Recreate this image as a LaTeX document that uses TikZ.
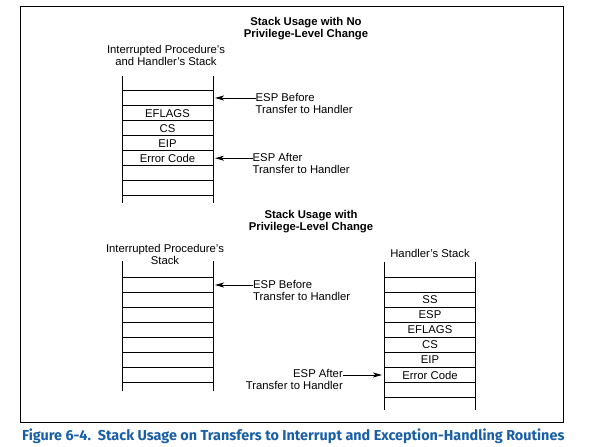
\documentclass[tikz,border=0pt]{standalone}
\usepackage{fontspec}
\setmainfont{Liberation Sans}
\newfontfamily\capfont{Fira Sans}
\usetikzlibrary{arrows.meta}
\definecolor{capblue}{RGB}{25,95,165}
\begin{document}
\begin{tikzpicture}[x=1pt,y=-1pt,
  line/.style={line width=0.9pt},
  arr/.style={line width=0.9pt,-{Stealth[length=9pt,width=5pt,inset=2.5pt]}},
  cell/.style={font=\fontsize{11.3}{12}\selectfont,inner sep=0pt},
  lbl/.style={font=\fontsize{11.3}{12}\selectfont,inner sep=0pt},
  ttl/.style={font=\fontsize{11.3}{12}\selectfont\bfseries,align=center,inner sep=0pt},
  hdr/.style={font=\fontsize{11.3}{12}\selectfont,align=center,inner sep=0pt}]
\useasboundingbox (0,0) rectangle (603,447);
% frame
\draw[line width=1pt] (20,6) rectangle (563,422);

% ---------- top part ----------
\node[ttl] (t1) at (306,29) {Stack Usage with No\\Privilege-Level Change};
\node[hdr] (h1) at (166,55) {Interrupted Procedure's\\and Handler's Stack};
\draw[line] (122,76) -- (122,203) (213,76) -- (213,203);
\foreach \k in {0,...,7} \draw[line] (122,90.7+15*\k) -- (213,90.7+15*\k);
\node[cell] (a1) at (167.5,113.2) {EFLAGS};
\node[cell] (a2) at (167.5,128.2) {CS};
\node[cell] (a3) at (167.5,143.2) {EIP};
\node[cell] (a4) at (167.5,158.2) {Error Code};
\coordinate (p1) at (215,98);
\coordinate (p2) at (215,158.2);
\node[lbl,align=left,anchor=north west] (l1) at (255.5,93) {ESP Before\\Transfer to Handler};
\node[lbl,align=left,anchor=north west] (l2) at (252.5,153.2) {ESP After\\Transfer to Handler};
\draw[arr] (l1.west |- p1) -- (p1);
\draw[arr] (l2.west |- p2) -- (p2);

% ---------- bottom part ----------
\node[ttl] (t2) at (311,222) {Stack Usage with\\Privilege-Level Change};
\node[hdr] (h2) at (165,254) {Interrupted Procedure's\\Stack};
\draw[line] (122,261) -- (122,391) (213,261) -- (213,391);
\foreach \k in {0,...,7} \draw[line] (122,277.3+15*\k) -- (213,277.3+15*\k);
\coordinate (p3) at (215,285);
\node[lbl,align=left,anchor=north west] (l3) at (253,280) {ESP Before\\Transfer to Handler};
\draw[arr] (l3.west |- p3) -- (p3);

\node[hdr] (h3) at (430,253) {Handler's Stack};
\draw[line] (384.3,261.7) -- (384.3,410) (475.7,261.7) -- (475.7,410);
\foreach \k in {0,...,8} \draw[line] (384.3,277.5+15*\k) -- (475.7,277.5+15*\k);
\node[cell] (b1) at (430,300) {SS};
\node[cell] (b2) at (430,315) {ESP};
\node[cell] (b3) at (430,330) {EFLAGS};
\node[cell] (b4) at (430,345) {CS};
\node[cell] (b5) at (430,360) {EIP};
\node[cell] (b6) at (430,375) {Error Code};
\coordinate (p4) at (382,375);
\node[lbl,align=right,anchor=north east] (l4) at (343,369.5) {ESP After\\Transfer to Handler};
\draw[arr] (l4.east |- p4) -- (p4);

% caption
\node[anchor=west,inner sep=0pt,text=capblue,font=\capfont\fontsize{14.4}{16}\selectfont\bfseries] (cap) at (22,436)
  {Figure 6-4.\ \ Stack Usage on Transfers to Interrupt and Exception-Handling Routines};
\end{tikzpicture}
\end{document}
